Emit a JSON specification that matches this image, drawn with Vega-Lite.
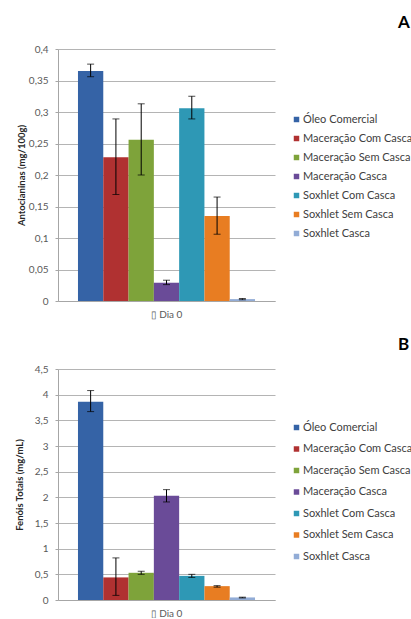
{
  "$schema": "https://vega.github.io/schema/vega-lite/v6.json",
  "padding": {"top": 14, "left": 14, "right": 0, "bottom": 0},
  "spacing": 17,
  "background": "#ffffff",
  "config": {
    "font": "Lato",
    "view": {"stroke": null},
    "axis": {"labelFont": "Lato", "titleFont": "Lato"},
    "axisY": {"grid": true, "gridColor": "#b4b4b4", "gridOpacity": 1, "gridWidth": 1},
    "legend": {"labelFont": "Lato"}
  },
  "datasets": {
    "antocianinas": [
      {"periodo": "Dia 0", "amostra": "Óleo Comercial", "valor": 0.365, "min": 0.356, "max": 0.376},
      {"periodo": "Dia 0", "amostra": "Maceração Com Casca", "valor": 0.228, "min": 0.169, "max": 0.289},
      {"periodo": "Dia 0", "amostra": "Maceração Sem Casca", "valor": 0.256, "min": 0.200, "max": 0.313},
      {"periodo": "Dia 0", "amostra": "Maceração Casca", "valor": 0.029, "min": 0.026, "max": 0.033},
      {"periodo": "Dia 0", "amostra": "Soxhlet Com Casca", "valor": 0.306, "min": 0.289, "max": 0.325},
      {"periodo": "Dia 0", "amostra": "Soxhlet Sem Casca", "valor": 0.135, "min": 0.106, "max": 0.165},
      {"periodo": "Dia 0", "amostra": "Soxhlet Casca", "valor": 0.003, "min": 0.002, "max": 0.004}
    ],
    "fenois": [
      {"periodo": "Dia 0", "amostra": "Óleo Comercial", "valor": 3.86, "min": 3.67, "max": 4.08},
      {"periodo": "Dia 0", "amostra": "Maceração Com Casca", "valor": 0.44, "min": 0.09, "max": 0.82},
      {"periodo": "Dia 0", "amostra": "Maceração Sem Casca", "valor": 0.53, "min": 0.50, "max": 0.56},
      {"periodo": "Dia 0", "amostra": "Maceração Casca", "valor": 2.03, "min": 1.91, "max": 2.15},
      {"periodo": "Dia 0", "amostra": "Soxhlet Com Casca", "valor": 0.47, "min": 0.44, "max": 0.50},
      {"periodo": "Dia 0", "amostra": "Soxhlet Sem Casca", "valor": 0.27, "min": 0.25, "max": 0.28},
      {"periodo": "Dia 0", "amostra": "Soxhlet Casca", "valor": 0.05, "min": 0.04, "max": 0.055}
    ]
  },
  "resolve": {"scale": {"color": "independent", "y": "independent"}, "legend": {"color": "independent"}},
  "vconcat": [
    {
      "data": {"name": "antocianinas"},
      "width": 217,
      "height": 252,
      "title": {"text": "A", "anchor": "start", "frame": "group", "dx": 340, "offset": 12, "fontSize": 17, "fontWeight": "bold", "color": "#000000", "font": "Lato"},
      "encoding": {
        "x": {"field": "periodo", "type": "nominal", "scale": {"paddingInner": 0, "paddingOuter": 0},
          "axis": {"title": null, "labelAngle": 0, "ticks": false, "labelPadding": 8, "labelFontSize": 10, "labelColor": "#595959", "domainColor": "#a6a6a6", "labelExpr": "'▯ ' + datum.label"}},
        "xOffset": {"field": "amostra", "type": "nominal", "sort": null,
          "scale": {"domain": ["Óleo Comercial", "Maceração Com Casca", "Maceração Sem Casca", "Maceração Casca", "Soxhlet Com Casca", "Soxhlet Sem Casca", "Soxhlet Casca"], "paddingInner": 0, "paddingOuter": 0.79}}
      },
      "layer": [
        {
          "mark": {"type": "bar"},
          "encoding": {
            "y": {"field": "valor", "type": "quantitative", "scale": {"domain": [0, 0.4], "nice": false},
              "axis": {"title": "Antocianinas  (mg/100g)", "tickCount": 8,
                "labelExpr": "replace(format(datum.value, '.2~f'), '.', ',')", "labelOverlap": false,
                "grid": true, "gridColor": "#b4b4b4", "domainColor": "#a6a6a6", "tickColor": "#a6a6a6", "tickSize": 3,
                "labelPadding": 7, "labelFontSize": 10, "labelColor": "#595959",
                "titleFontSize": 9.5, "titleFontWeight": "bold", "titleColor": "#262626", "titlePadding": 2}},
            "color": {"field": "amostra", "type": "nominal", "sort": null,
              "scale": {"domain": ["Óleo Comercial", "Maceração Com Casca", "Maceração Sem Casca", "Maceração Casca", "Soxhlet Com Casca", "Soxhlet Sem Casca", "Soxhlet Casca"],
                "range": ["#3563a6", "#b03131", "#7ea33a", "#6a4b98", "#2e98b5", "#e87d22", "#92acd6"]},
              "legend": {"title": null, "orient": "none", "legendX": 233, "legendY": 65, "symbolType": "square", "symbolSize": 30, "symbolStrokeWidth": 0,
                "labelFontSize": 11, "labelColor": "#404040", "rowPadding": 7, "labelOffset": 1, "labelLimit": 300}}
          }
        },
        {
          "mark": {"type": "rule", "color": "#000000", "strokeWidth": 1},
          "encoding": {"y": {"field": "min", "type": "quantitative"}, "y2": {"field": "max"}}
        },
        {
          "mark": {"type": "tick", "orient": "horizontal", "color": "#000000", "size": 7, "thickness": 1},
          "encoding": {"y": {"field": "max", "type": "quantitative"}}
        },
        {
          "mark": {"type": "tick", "orient": "horizontal", "color": "#000000", "size": 7, "thickness": 1},
          "encoding": {"y": {"field": "min", "type": "quantitative"}}
        }
      ]
    },
    {
      "data": {"name": "fenois"},
      "width": 217,
      "height": 231,
      "title": {"text": "B", "anchor": "start", "frame": "group", "dx": 340, "offset": 10, "fontSize": 17, "fontWeight": "bold", "color": "#000000", "font": "Lato"},
      "encoding": {
        "x": {"field": "periodo", "type": "nominal", "scale": {"paddingInner": 0, "paddingOuter": 0},
          "axis": {"title": null, "labelAngle": 0, "ticks": false, "labelPadding": 8, "labelFontSize": 10, "labelColor": "#595959", "domainColor": "#a6a6a6", "labelExpr": "'▯ ' + datum.label"}},
        "xOffset": {"field": "amostra", "type": "nominal", "sort": null,
          "scale": {"domain": ["Óleo Comercial", "Maceração Com Casca", "Maceração Sem Casca", "Maceração Casca", "Soxhlet Com Casca", "Soxhlet Sem Casca", "Soxhlet Casca"], "paddingInner": 0, "paddingOuter": 0.79}}
      },
      "layer": [
        {
          "mark": {"type": "bar"},
          "encoding": {
            "y": {"field": "valor", "type": "quantitative", "scale": {"domain": [0, 4.5], "nice": false},
              "axis": {"title": "Fenóis Totais (mg/mL)", "tickCount": 9,
                "labelExpr": "replace(format(datum.value, '.1~f'), '.', ',')", "labelOverlap": false,
                "grid": true, "gridColor": "#b4b4b4", "domainColor": "#a6a6a6", "tickColor": "#a6a6a6", "tickSize": 3,
                "labelPadding": 7, "labelFontSize": 10, "labelColor": "#595959",
                "titleFontSize": 9.5, "titleFontWeight": "bold", "titleColor": "#262626", "titlePadding": 10}},
            "color": {"field": "amostra", "type": "nominal", "sort": null,
              "scale": {"domain": ["Óleo Comercial", "Maceração Com Casca", "Maceração Sem Casca", "Maceração Casca", "Soxhlet Com Casca", "Soxhlet Sem Casca", "Soxhlet Casca"],
                "range": ["#3563a6", "#b03131", "#7ea33a", "#6a4b98", "#2e98b5", "#e87d22", "#92acd6"]},
              "legend": {"title": null, "orient": "none", "legendX": 233, "legendY": 53, "symbolType": "square", "symbolSize": 30, "symbolStrokeWidth": 0,
                "labelFontSize": 11, "labelColor": "#404040", "rowPadding": 9.5, "labelOffset": 1, "labelLimit": 300}}
          }
        },
        {
          "mark": {"type": "rule", "color": "#000000", "strokeWidth": 1},
          "encoding": {"y": {"field": "min", "type": "quantitative"}, "y2": {"field": "max"}}
        },
        {
          "mark": {"type": "tick", "orient": "horizontal", "color": "#000000", "size": 7, "thickness": 1},
          "encoding": {"y": {"field": "max", "type": "quantitative"}}
        },
        {
          "mark": {"type": "tick", "orient": "horizontal", "color": "#000000", "size": 7, "thickness": 1},
          "encoding": {"y": {"field": "min", "type": "quantitative"}}
        }
      ]
    }
  ]
}
